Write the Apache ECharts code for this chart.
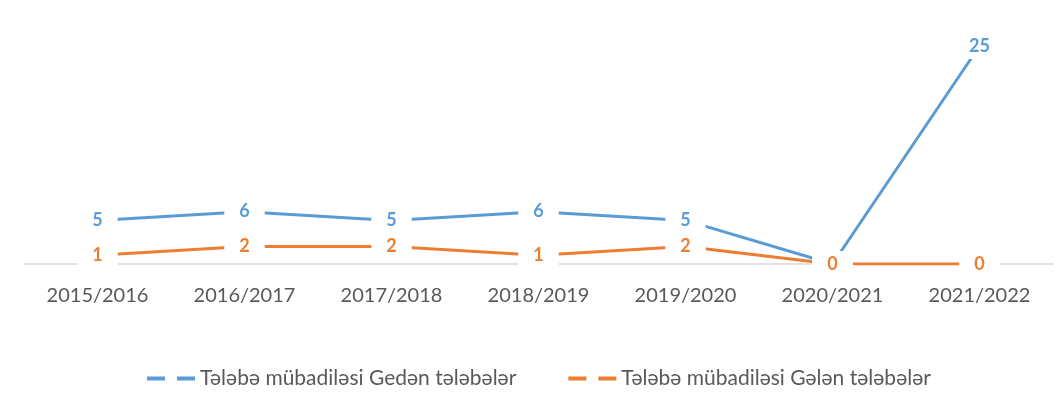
<!DOCTYPE html>
<html>
<head>
<meta charset="utf-8">
<script src="https://cdn.jsdelivr.net/npm/echarts@6/dist/echarts.min.js"></script>
<style>
  html, body { margin: 0; padding: 0; background: #fff; }
  #chart { width: 1055px; height: 411px; }
</style>
</head>
<body>
<div id="chart"></div>
<script>
  var years = ['2015/2016', '2016/2017', '2017/2018', '2018/2019', '2019/2020', '2020/2021', '2021/2022'];
  var outgoing = [5, 6, 5, 6, 5, 0, 25];
  var incoming = [1, 2, 2, 1, 2, 0, 0];
  var seriesNames = ['Tələbə mübadiləsi Gedən tələbələr', 'Tələbə mübadiləsi Gələn tələbələr'];
  var colors = ['#5B9BD5', '#ED7D31'];

  var chart = echarts.init(document.getElementById('chart'));
  // two short dashes, like the Excel legend key
  var dashIcon = 'path://M0,0h18v4h-18z M30,0h18v4h-18z';

  function lineSeries(name, data, color) {
    return {
      name: name,
      type: 'line',
      data: data,
      symbol: 'circle',
      symbolSize: 1,
      showSymbol: true,
      itemStyle: { color: 'rgba(0,0,0,0)' },
      lineStyle: { width: 3, color: color },
      label: {
        show: true,
        position: 'inside',
        color: color,
        fontFamily: 'Lato',
        fontWeight: 'bold',
        fontSize: 18,
        backgroundColor: '#fff',
        padding: [4, 15]
      },
      emphasis: { disabled: true },
      animation: false
    };
  }

  chart.setOption({
    grid: { left: 24, right: 2, top: 46, bottom: 147, containLabel: false },
    legend: {
      top: 363,
      left: 142,
      itemWidth: 48,
      itemHeight: 4,
      itemGap: 52,
      icon: dashIcon,
      textStyle: { color: '#595959', fontFamily: 'Lato', fontSize: 21 },
      data: seriesNames.map(function (n, i) {
        return { name: n, itemStyle: { color: colors[i], opacity: 1 } };
      })
    },
    xAxis: {
      type: 'category',
      data: years,
      boundaryGap: true,
      axisLine: { lineStyle: { color: '#D9D9D9', width: 1.5 } },
      axisTick: { show: false },
      axisLabel: { color: '#595959', fontFamily: 'Lato', fontSize: 20, margin: 22 }
    },
    yAxis: {
      type: 'value',
      min: 0,
      max: 25,
      show: false,
      splitLine: { show: false }
    },
    series: [
      lineSeries(seriesNames[0], outgoing, colors[0]),
      lineSeries(seriesNames[1], incoming, colors[1])
    ]
  });
</script>
</body>
</html>
